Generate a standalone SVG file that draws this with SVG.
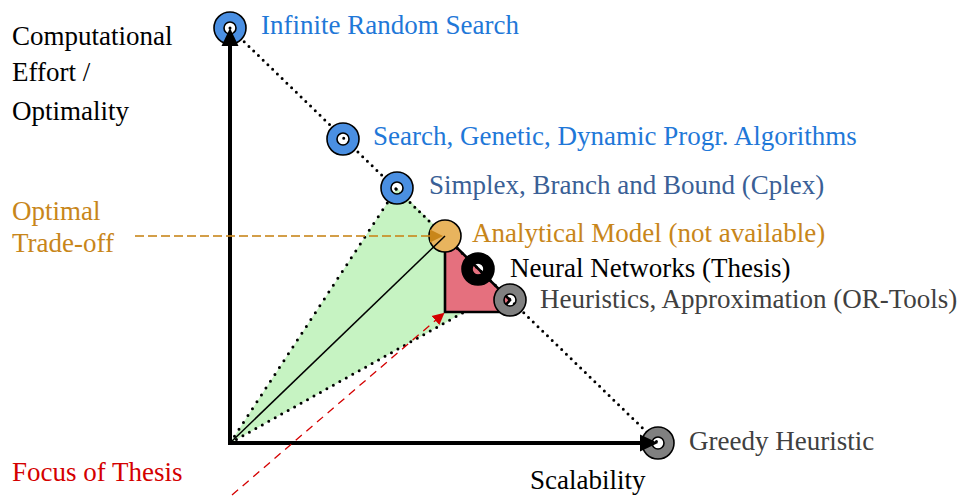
<svg xmlns="http://www.w3.org/2000/svg" width="961" height="498" viewBox="0 0 961 498">
  <defs>
    <!-- donut marker with an open centre -->
    <path id="ring" stroke="#000" stroke-width="1.6" fill-rule="evenodd" d="M-16,0 a16,16 0 1,0 32,0 a16,16 0 1,0 -32,0 Z M-6,0 a6,6 0 1,0 12,0 a6,6 0 1,0 -12,0 Z"/>
    <marker id="axhead" markerUnits="userSpaceOnUse" markerWidth="26" markerHeight="22" viewBox="-9 -11 22 22" refX="0" refY="0" orient="auto">
      <path d="M11,0 L-7,-8.5 L-7,8.5 Z" fill="#000"/>
    </marker>
    <marker id="orhead" markerUnits="userSpaceOnUse" markerWidth="20" markerHeight="16" viewBox="-10 -8 20 16" refX="0" refY="0" orient="auto">
      <path d="M4,0 L-9,-6.5 L-9,6.5 Z" fill="#c8861a"/>
    </marker>
    <marker id="redhead" markerUnits="userSpaceOnUse" markerWidth="20" markerHeight="16" viewBox="-10 -8 20 16" refX="0" refY="0" orient="auto">
      <path d="M2,0 L-10,-6 L-10,6 Z" fill="#d40000"/>
    </marker>
  </defs>

  <!-- shaded regions -->
  <g id="regions">
    <polygon points="230,443 397,188 510,300 468,310" fill="#c6f3c2"/>
    <polygon points="445,236 445,312 500,312 510,300" fill="#e5707e" stroke="#000" stroke-width="2.6" stroke-linejoin="miter"/>
  </g>

  <g id="connectors" fill="none" stroke="#000" stroke-width="3" stroke-linecap="round">
    <!-- dotted bounds -->
    <line x1="230" y1="28" x2="658" y2="443" stroke-dasharray="0 6.6"/>
    <line x1="230" y1="443" x2="397" y2="188" stroke-dasharray="0 8.2"/>
    <line x1="230" y1="443" x2="466" y2="311" stroke-dasharray="0 7.4"/>
  </g>

  <!-- points on the trade-off line -->
  <g id="infinite-random-search">
    <use href="#ring" x="230" y="28" fill="#4a8fe2"/>
    <text x="261" y="34" fill="#1f78d8" font-family="Liberation Serif" font-size="27">Infinite Random Search</text>
  </g>
  <g id="search-genetic">
    <use href="#ring" x="343" y="139" fill="#4a8fe2"/>
    <text x="373" y="145" fill="#1f78d8" font-family="Liberation Serif" font-size="27">Search, Genetic, Dynamic Progr. Algorithms</text>
  </g>
  <g id="simplex">
    <use href="#ring" x="397" y="188" fill="#4a8fe2"/>
    <text x="429" y="194" fill="#3a5f96" font-family="Liberation Serif" font-size="27">Simplex, Branch and Bound (Cplex)</text>
  </g>
  <g id="analytical-model">
    <circle cx="445" cy="236" r="16" fill="#e8b45e" stroke="#000" stroke-width="1.6"/>
    <text x="472" y="242" fill="#c8861a" font-family="Liberation Serif" font-size="27">Analytical Model (not available)</text>
  </g>
  <g id="neural-networks">
    <use href="#ring" x="478" y="269" fill="#000"/>
    <text x="510" y="277" fill="#000" font-family="Liberation Serif" font-size="27">Neural Networks (Thesis)</text>
  </g>
  <g id="heuristics">
    <use href="#ring" x="510" y="300" fill="#808080"/>
    <text x="540" y="308" fill="#404040" font-family="Liberation Serif" font-size="27">Heuristics, Approximation (OR-Tools)</text>
  </g>
  <g id="greedy-heuristic">
    <use href="#ring" x="658" y="443" fill="#808080"/>
    <text x="689" y="450" fill="#404040" font-family="Liberation Serif" font-size="27">Greedy Heuristic</text>
  </g>

  <g id="arrows">
    <!-- axes -->
    <line x1="230" y1="445" x2="230" y2="39" stroke="#000" stroke-width="4" marker-end="url(#axhead)"/>
    <line x1="228" y1="443" x2="647" y2="443" stroke="#000" stroke-width="4" marker-end="url(#axhead)"/>
    <!-- path to the analytical optimum -->
    <line x1="230" y1="443" x2="445" y2="236" stroke="#000" stroke-width="1.5"/>
    <!-- optimal trade-off pointer -->
    <line x1="135" y1="236" x2="439" y2="236" stroke="#c8861a" stroke-opacity="0.8" stroke-width="2" stroke-dasharray="9 4" marker-end="url(#orhead)"/>
    <!-- thesis focus pointer -->
    <line x1="232" y1="495" x2="443" y2="314" stroke="#d40000" stroke-width="1.3" stroke-dasharray="8 6" marker-end="url(#redhead)"/>
  </g>

  <!-- axis and side labels -->
  <g id="axis-labels">
    <text x="12" y="45" fill="#000" font-family="Liberation Serif" font-size="27">Computational</text>
    <text x="12" y="81" fill="#000" font-family="Liberation Serif" font-size="27">Effort /</text>
    <text x="12" y="120" fill="#000" font-family="Liberation Serif" font-size="27">Optimality</text>
    <text x="530" y="489" fill="#000" font-family="Liberation Serif" font-size="27">Scalability</text>
  </g>
  <g id="optimal-trade-off">
    <text x="12" y="220" fill="#c8861a" font-family="Liberation Serif" font-size="27">Optimal</text>
    <text x="12" y="252" fill="#c8861a" font-family="Liberation Serif" font-size="27">Trade-off</text>
  </g>
  <g id="focus-of-thesis">
    <text x="12" y="481" fill="#d40000" font-family="Liberation Serif" font-size="27">Focus of Thesis</text>
  </g>
</svg>
